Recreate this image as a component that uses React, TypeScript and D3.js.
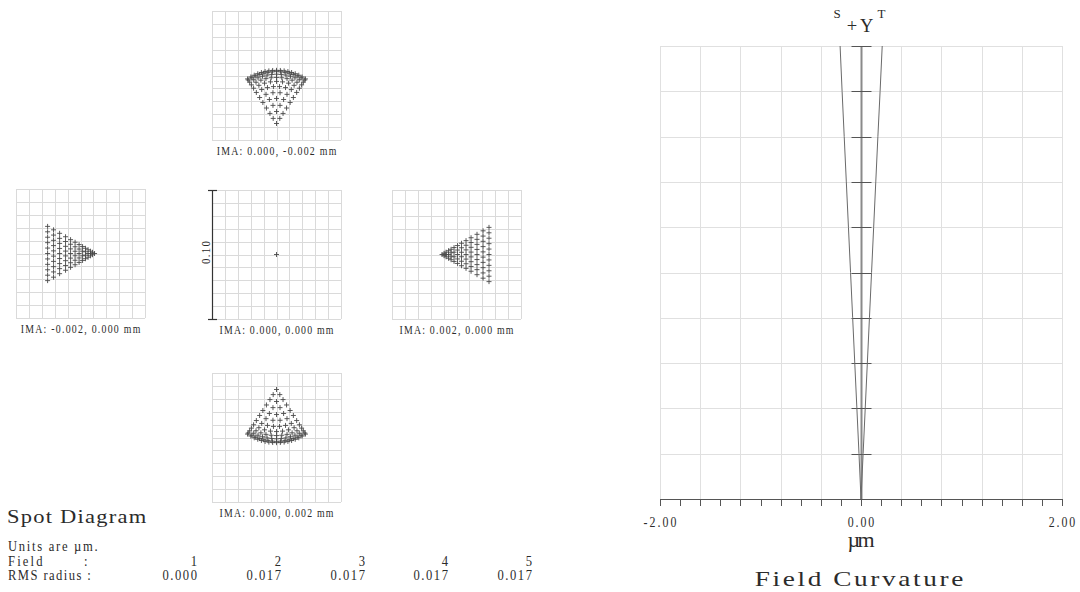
import React from 'react';
import * as d3 from 'd3';

const FONT = '"Liberation Serif", "DejaVu Serif", serif';
const INK = '#2b2b2b';
const GRID = '#dadada';
const MARK = '#4a4a4a';

// ---------- spot diagram data (µm on the image plane, +y up) ----------
const spotLabels = [
  'IMA: 0.000, -0.002 mm',
  'IMA: -0.002, 0.000 mm',
  'IMA: 0.000, 0.000 mm',
  'IMA: 0.002, 0.000 mm',
  'IMA: 0.000, 0.002 mm',
];
const spotApexX = [0, 0.0109, 0, -0.0112, 0];
const spotApexY = [-0.0372, 0, 0, 0, 0.0372];
const spotSpreadDeg = [90, 180, 0, 0, 270];
const spotPattern = ['arc', 'fan', 'point', 'fan', 'arc'];

// ray rows of the arc-capped wedges (distance from apex, rays per row)
const arcRowDist = [0, 0.0047, 0.0093, 0.0143, 0.0194, 0.024, 0.0287, 0.0326, 0.0357, 0.0382, 0.0402, 0.0412];
const arcRowRays = [1, 2, 3, 4, 5, 6, 8, 9, 11, 13, 15, 17];
const arcHalfAngleDeg = 33;

// ray rows of the flat-based wedges
const fanRowDist = [0, 0.0016, 0.0031, 0.005, 0.007, 0.0093, 0.012, 0.0151, 0.0186, 0.0225, 0.0271, 0.0318, 0.0364];
const fanRowRays = [1, 2, 3, 3, 4, 4, 5, 6, 7, 8, 9, 10, 11];
const fanHalfAngleDeg = 30;

const spotHalfWidth = 0.05; // µm, box spans the 0.10 scale bar
const scaleBarLabel = '0.10';

const rmsFields = ['1', '2', '3', '4', '5'];
const rmsRadius = ['0.000', '0.017', '0.017', '0.017', '0.017'];

// ---------- field curvature data ----------
const fieldFraction = [0, 0.1, 0.2, 0.3, 0.4, 0.5, 0.6, 0.7, 0.8, 0.9, 1.0];
const sagittalFocus = [0, -0.02, -0.041, -0.062, -0.083, -0.104, -0.125, -0.146, -0.167, -0.188, -0.208];
const tangentialFocus = [0, 0.021, 0.042, 0.063, 0.084, 0.105, 0.126, 0.147, 0.168, 0.19, 0.211];
const focusRange = [-2, 2];
const focusTickLabels = ['-2.00', '0.00', '2.00'];
const focusTickValues = [-2, 0, 2];

// ---------- layout ----------
const BOX = 129;
const spotBoxX = [212, 16, 212, 392, 212];
const spotBoxY = [11, 189, 190, 190, 373];
const fcLeft = 660;
const fcRight = 1062;
const fcTop = 46;
const fcBottom = 499;

type TxtProps = {
  x: number;
  y: number;
  size: number;
  adv: number; // character pitch, px
  sx?: number; // horizontal glyph scale
  anchor?: 'start' | 'middle' | 'end';
  rotate?: number;
  text: string;
};

// Fixed-pitch text: the run is stretched to n * pitch by letter spacing only.
function Txt({ x, y, size, adv, sx = 1, anchor = 'start', rotate = 0, text }: TxtProps) {
  const len = (text.length * adv) / sx;
  return (
    <text
      transform={`translate(${x},${y}) rotate(${rotate}) scale(${sx},1)`}
      x={0}
      y={0}
      fontSize={size}
      fontFamily={FONT}
      textAnchor={anchor}
      textLength={len}
      lengthAdjust="spacing"
      fill={INK}
    >
      {text}
    </text>
  );
}

function spotPoints(i: number): [number, number][] {
  const ax = spotApexX[i];
  const ay = spotApexY[i];
  const pattern = spotPattern[i];
  if (pattern === 'point') return [[ax, ay]];
  const a = (spotSpreadDeg[i] * Math.PI) / 180;
  const rows = pattern === 'arc' ? arcRowDist : fanRowDist;
  const rays = pattern === 'arc' ? arcRowRays : fanRowRays;
  const half = ((pattern === 'arc' ? arcHalfAngleDeg : fanHalfAngleDeg) * Math.PI) / 180;
  const pts: [number, number][] = [];
  rows.forEach((d, k) => {
    const n = rays[k];
    for (let j = 0; j < n; j++) {
      const t = n === 1 ? 0 : -1 + (2 * j) / (n - 1);
      if (pattern === 'arc') {
        const ang = a + t * half;
        pts.push([ax + d * Math.cos(ang), ay + d * Math.sin(ang)]);
      } else {
        const lat = t * d * Math.tan(half);
        pts.push([ax + d * Math.cos(a) - lat * Math.sin(a), ay + d * Math.sin(a) + lat * Math.cos(a)]);
      }
    }
  });
  return pts;
}

function SpotPanel({ i }: { i: number }) {
  const x0 = spotBoxX[i];
  const y0 = spotBoxY[i];
  const xs = d3.scaleLinear().domain([-spotHalfWidth, spotHalfWidth]).range([x0, x0 + BOX]);
  const ys = d3.scaleLinear().domain([-spotHalfWidth, spotHalfWidth]).range([y0 + BOX, y0]);
  const gridVals = d3.range(11).map((k) => -spotHalfWidth + (k * 2 * spotHalfWidth) / 10);
  const pts = spotPoints(i);
  const isCenter = spotPattern[i] === 'point';
  return (
    <g>
      {gridVals.map((v, k) => (
        <line key={'v' + k} x1={Math.round(xs(v)) + 0.5} x2={Math.round(xs(v)) + 0.5} y1={y0} y2={y0 + BOX} stroke={GRID} />
      ))}
      {gridVals.map((v, k) => (
        <line key={'h' + k} y1={Math.round(ys(v)) + 0.5} y2={Math.round(ys(v)) + 0.5} x1={x0} x2={x0 + BOX} stroke={GRID} />
      ))}
      {pts.map(([px, py], k) => {
        const cx = xs(px);
        const cy = ys(py);
        return (
          <path
            key={k}
            d={`M${cx - 2.5},${cy}h5M${cx},${cy - 2.5}v5`}
            stroke={MARK}
            strokeWidth={0.9}
            fill="none"
          />
        );
      })}
      {isCenter && (
        <g stroke="#333" strokeWidth={1.2}>
          <line x1={x0 + 0.5} x2={x0 + 0.5} y1={y0} y2={y0 + BOX} />
          <line x1={x0 - 4} x2={x0 + 5} y1={y0 + 0.5} y2={y0 + 0.5} />
          <line x1={x0 - 4} x2={x0 + 5} y1={y0 + BOX + 0.5} y2={y0 + BOX + 0.5} />
        </g>
      )}
      {isCenter && (
        <Txt x={x0 - 2} y={y0 + BOX / 2 - 2} size={12} adv={5.75} sx={0.9} anchor="middle" rotate={-90} text={scaleBarLabel} />
      )}
      <Txt x={x0 + BOX / 2} y={y0 + BOX + 15} size={12} adv={5.7} sx={0.82} anchor="middle" text={spotLabels[i]} />
    </g>
  );
}

function SpotSummary() {
  const colX = [197, 281, 365, 448, 532];
  const pitch = 6.9;
  const small = { size: 14, adv: pitch, sx: 0.9 };
  return (
    <g>
      <Txt x={7} y={523} size={18} adv={11.6} sx={1.25} text="Spot Diagram" />
      <Txt x={8} y={551} {...small} text="Units are µm." />
      <Txt x={8} y={565.5} {...small} text="Field" />
      <Txt x={8 + 11 * pitch} y={565.5} {...small} text=":" />
      <Txt x={8} y={580} {...small} text="RMS radius :" />
      {rmsFields.map((f, k) => (
        <Txt key={'f' + k} x={colX[k]} y={565.5} {...small} anchor="end" text={f} />
      ))}
      {rmsRadius.map((r, k) => (
        <Txt key={'r' + k} x={colX[k]} y={580} {...small} anchor="end" text={r} />
      ))}
    </g>
  );
}

function FieldCurvature() {
  const xs = d3.scaleLinear().domain(focusRange).range([fcLeft, fcRight]);
  const ys = d3.scaleLinear().domain([0, 1]).range([fcBottom, fcTop]);
  const gridX = d3.range(11).map((k) => focusRange[0] + (k * (focusRange[1] - focusRange[0])) / 10);
  const gridY = d3.range(11).map((k) => k / 10);
  const ticks = xs.ticks(20);
  const line = d3
    .line<number>()
    .x((v) => xs(v))
    .y((_, k) => ys(fieldFraction[k]));
  const x0 = Math.round(xs(0)) + 0.5;
  const crisp = (v: number) => Math.round(v) + 0.5;
  return (
    <g>
      {gridX.map((v, k) => (
        <line key={'gx' + k} x1={crisp(xs(v))} x2={crisp(xs(v))} y1={fcTop} y2={fcBottom} stroke="#e0e0e0" />
      ))}
      {gridY.slice(1).map((v, k) => (
        <line key={'gy' + k} x1={fcLeft} x2={fcRight} y1={crisp(ys(v))} y2={crisp(ys(v))} stroke="#e0e0e0" />
      ))}
      {/* field axis at zero focus shift */}
      <line x1={x0} x2={x0} y1={fcTop} y2={fcBottom} stroke="#8a8a8a" strokeWidth={2} />
      {gridY.slice(1).map((v, k) => (
        <line key={'ft' + k} x1={x0 - 10} x2={x0 + 10} y1={crisp(ys(v))} y2={crisp(ys(v))} stroke="#555" />
      ))}
      <path d={line(sagittalFocus) || ''} fill="none" stroke="#6a6a6a" strokeWidth={1} />
      <path d={line(tangentialFocus) || ''} fill="none" stroke="#6a6a6a" strokeWidth={1} />
      {/* focus axis */}
      <line x1={fcLeft} x2={fcRight} y1={crisp(fcBottom)} y2={crisp(fcBottom)} stroke="#555" />
      {ticks.map((t, k) => (
        <line key={'t' + k} x1={crisp(xs(t))} x2={crisp(xs(t))} y1={fcBottom} y2={fcBottom + 7} stroke="#555" />
      ))}
      {focusTickValues.map((v, k) => (
        <Txt key={'l' + k} x={xs(v)} y={527} size={14} adv={6.6} sx={0.85} anchor="middle" text={focusTickLabels[k]} />
      ))}
      <Txt x={xs(0)} y={547} size={20} adv={13.5} sx={1.1} anchor="middle" text="µm" />
      <Txt x={859} y={585.5} size={21} adv={13.9} sx={1.3} anchor="middle" text="Field Curvature" />
      {/* S / +Y / T header */}
      <Txt x={837} y={18} size={13} adv={8} anchor="middle" text="S" />
      <Txt x={860} y={31.5} size={18.5} adv={13.3} anchor="middle" text="+Y" />
      <Txt x={881.5} y={18} size={13} adv={8} anchor="middle" text="T" />
    </g>
  );
}

export default function App() {
  return (
    <svg
      width={1080}
      height={592}
      viewBox="0 0 1080 592"
      style={{ position: 'absolute', left: 0, top: 0, background: '#fff' }}
    >
      <rect width={1080} height={592} fill="#fff" />
      {spotLabels.map((_, i) => (
        <SpotPanel key={i} i={i} />
      ))}
      <SpotSummary />
      <FieldCurvature />
    </svg>
  );
}
